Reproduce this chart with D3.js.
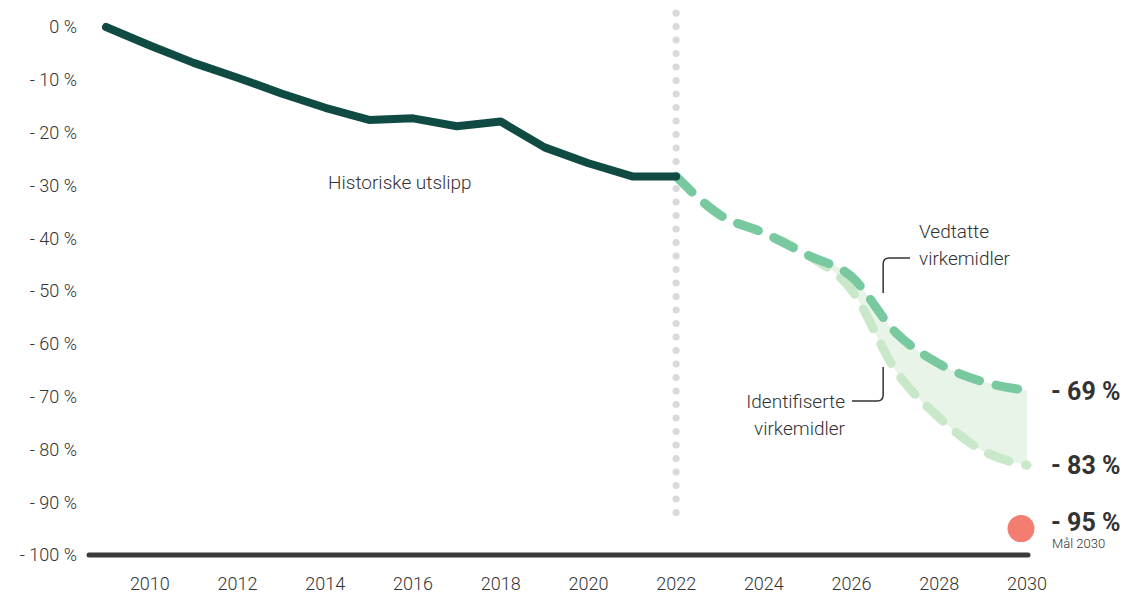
<!DOCTYPE html>
<html>
<head>
<meta charset="utf-8">
<script src="https://cdn.jsdelivr.net/npm/d3@7"></script>
<style>
  body { margin: 0; background: #fff; }
  text { font-family: Roboto, "Noto Sans", sans-serif; fill: #333; }
  .lt { font-weight: 300; }
</style>
</head>
<body>
<div id="chart"></div>
<script>
// historical emissions, % change from 2009
var histYears = [2009, 2010, 2011, 2012, 2013, 2014, 2015, 2016, 2017, 2018, 2019, 2020, 2021, 2022];
var histValues = [0, -3.5, -6.8, -9.6, -12.6, -15.3, -17.6, -17.3, -18.8, -17.9, -22.8, -25.8, -28.3, -28.3];

// projections
var projYears = [2022, 2023, 2024, 2025, 2026, 2027, 2028, 2029, 2030];
var vedtatte = [-28.3, -35.6, -39.0, -43.2, -47.3, -57.8, -63.8, -67.2, -68.8];
var identifiserte = [-28.3, -35.6, -39.0, -43.2, -49.8, -65.0, -74.0, -80.3, -83.0];

var yTicks = [0, -10, -20, -30, -40, -50, -60, -70, -80, -90, -100];
var xTicks = [2010, 2012, 2014, 2016, 2018, 2020, 2022, 2024, 2026, 2028, 2030];

var endLabels = [{ v: -69, t: "- 69 %" }, { v: -83, t: "- 83 %" }, { v: -95, t: "- 95 %" }];
var goalYear = 2030, goalValue = -95;

var w = 1129, h = 593;

var svg = d3.select("#chart")
    .append("svg")
    .attr("width", w)
    .attr("height", h);

// scales
var x = d3.scaleLinear().domain([2009, 2030]).range([106, 1027]);
var y = d3.scaleLinear().domain([0, -100]).range([27, 555]);

// y labels
svg.append("g")
    .selectAll("text")
    .data(yTicks)
    .enter().append("text")
    .attr("class", "lt")
    .attr("x", 77)
    .attr("y", function(d) { return y(d); })
    .attr("dy", "0.35em")
    .attr("text-anchor", "end")
    .style("font-size", "18px")
    .text(function(d) { return d === 0 ? "0 %" : "- " + Math.abs(d) + " %"; });

// x labels
svg.append("g")
    .selectAll("text")
    .data(xTicks)
    .enter().append("text")
    .attr("class", "lt")
    .attr("x", function(d) { return x(d); })
    .attr("y", 590)
    .attr("text-anchor", "middle")
    .style("font-size", "18px")
    .text(function(d) { return d; });

// dotted separator at 2022
var dots = d3.range(13, 522, 13.5);
svg.append("g")
    .selectAll("circle")
    .data(dots)
    .enter().append("circle")
    .attr("cx", x(2022))
    .attr("cy", function(d) { return d; })
    .attr("r", 3.6)
    .style("fill", "#dadada");

// base line at -100 %
svg.append("line")
    .attr("x1", 89).attr("x2", x(2030) + 1)
    .attr("y1", y(-100)).attr("y2", y(-100))
    .attr("stroke", "#3a3a3a")
    .attr("stroke-width", 5)
    .attr("stroke-linecap", "round");

// area between projections
var proj = projYears.map(function(yr, i) {
    return { year: yr, a: vedtatte[i], b: identifiserte[i] };
});

var area = d3.area()
    .x(function(d) { return x(d.year); })
    .y0(function(d) { return y(d.a); })
    .y1(function(d) { return y(d.b); })
    .curve(d3.curveMonotoneX);

svg.append("path")
    .datum(proj.filter(function(d) { return d.year >= 2025; }))
    .attr("fill", "#e7f4e7")
    .attr("d", area);

var line = d3.line()
    .x(function(d) { return x(d[0]); })
    .y(function(d) { return y(d[1]); })
    .curve(d3.curveMonotoneX);

// identified measures (light)
svg.append("path")
    .datum(projYears.map(function(yr, i) { return [yr, identifiserte[i]]; }))
    .attr("fill", "none")
    .attr("stroke", "#c9e7c9")
    .attr("stroke-width", 9)
    .attr("stroke-linecap", "round")
    .attr("stroke-dasharray", "22 17")
    .attr("d", line);

// adopted measures
svg.append("path")
    .datum(projYears.map(function(yr, i) { return [yr, vedtatte[i]]; }))
    .attr("fill", "none")
    .attr("stroke", "#78c9a0")
    .attr("stroke-width", 9)
    .attr("stroke-linecap", "round")
    .attr("stroke-dasharray", "22 17")
    .attr("d", line);

// historical line
svg.append("path")
    .datum(histYears.map(function(yr, i) { return [yr, histValues[i]]; }))
    .attr("fill", "none")
    .attr("stroke", "#0f4b43")
    .attr("stroke-width", 8)
    .attr("stroke-linecap", "round")
    .attr("stroke-linejoin", "round")
    .attr("d", d3.line()
        .x(function(d) { return x(d[0]); })
        .y(function(d) { return y(d[1]); }));

svg.append("text")
    .attr("class", "lt")
    .attr("x", x(2015.7))
    .attr("y", 189)
    .attr("text-anchor", "middle")
    .style("font-size", "19px")
    .text("Historiske utslipp");

// goal dot
svg.append("circle")
    .attr("cx", x(goalYear) - 6)
    .attr("cy", y(goalValue))
    .attr("r", 13.5)
    .style("fill", "#f47d71");

// end labels
svg.append("g")
    .selectAll("text")
    .data(endLabels)
    .enter().append("text")
    .attr("x", 1051)
    .attr("y", function(d) { return y(d.v); })
    .attr("dy", function(d) { return d.v === -95 ? "0.1em" : "0.35em"; })
    .style("font-size", "25px")
    .style("font-weight", "bold")
    .text(function(d) { return d.t; });

svg.append("text")
    .attr("class", "lt")
    .attr("x", 1052)
    .attr("y", 548)
    .style("font-size", "13px")
    .text("Mål 2030");

// annotation: Vedtatte virkemidler
var ax = x(2026.72);
svg.append("path")
    .attr("d", "M" + ax + "," + 293 + " V" + 264 + " Q" + ax + ",258 " + (ax + 6) + ",258 H" + 910)
    .attr("fill", "none")
    .attr("stroke", "#333")
    .attr("stroke-width", 1.5);

svg.append("text").attr("class", "lt").attr("x", 919).attr("y", 238).style("font-size", "19px").text("Vedtatte");
svg.append("text").attr("class", "lt").attr("x", 919).attr("y", 265).style("font-size", "19px").text("virkemidler");

// annotation: Identifiserte virkemidler
svg.append("path")
    .attr("d", "M" + ax + "," + 367 + " V" + 395 + " Q" + ax + ",401 " + (ax - 6) + ",401 H" + 852)
    .attr("fill", "none")
    .attr("stroke", "#333")
    .attr("stroke-width", 1.5);

svg.append("text").attr("class", "lt").attr("x", 845).attr("y", 408).attr("text-anchor", "end").style("font-size", "19px").text("Identifiserte");
svg.append("text").attr("class", "lt").attr("x", 845).attr("y", 435).attr("text-anchor", "end").style("font-size", "19px").text("virkemidler");
</script>
</body>
</html>
